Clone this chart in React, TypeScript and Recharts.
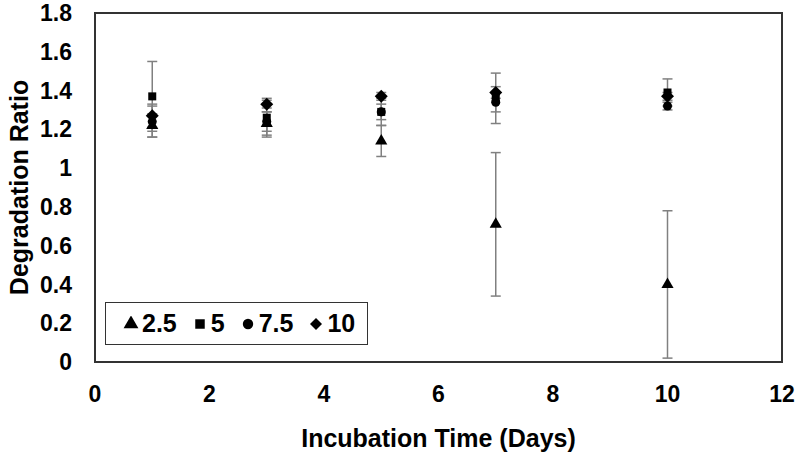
import React from 'react';
import { ScatterChart, Scatter, XAxis, YAxis, ErrorBar, ReferenceArea, Legend, Symbols } from 'recharts';

const days = [1, 3, 5, 7, 10];
const xTicks = [0, 2, 4, 6, 8, 10, 12];
const yTicks = [0, 0.2, 0.4, 0.6, 0.8, 1, 1.2, 1.4, 1.6, 1.8];

const s25 = [1.22, 1.23, 1.14, 0.71, 0.40];
const e25 = [0.06, 0.06, 0.08, 0.37, 0.38];
const s5 = [1.37, 1.26, 1.29, 1.36, 1.39];
const e5 = [0.18, 0.10, 0.07, 0.13, 0.07];
const s75 = [1.24, 1.24, 1.29, 1.34, 1.32];
const e75 = [0.08, 0.05, 0.04, 0.05, 0.02];
const s10 = [1.27, 1.33, 1.37, 1.39, 1.37];
const e10 = [0.06, 0.02, 0.02, 0.03, 0.02];

const build = (vals: number[], errs: number[]) =>
  days.map((d, i) => ({ x: d, y: vals[i], err: errs[i] }));

const DiamondShape = (props: any) => {
  const { cx, cy } = props;
  const r = 6.5;
  return <polygon points={`${cx},${cy - r} ${cx + r},${cy} ${cx},${cy + r} ${cx - r},${cy}`} fill="#000" />;
};

const series = [
  { name: '2.5', shape: 'triangle', data: build(s25, e25) },
  { name: '5', shape: 'square', data: build(s5, e5) },
  { name: '7.5', shape: 'circle', data: build(s75, e75) },
  { name: '10', shape: 'diamond', data: build(s10, e10) },
];

const FONT = '"Liberation Sans", Arial, sans-serif';

const LegendIcon = ({ type }: { type: string }) => (
  <svg width={16} height={16} style={{ marginRight: 3 }}>
    {type === 'diamond' ? (
      <polygon points="8,2 14,8 8,14 2,8" fill="#000" />
    ) : (
      <Symbols cx={8} cy={8} type={type as any} size={type === 'square' ? 90 : type === 'triangle' ? 95 : 85} fill="#000" />
    )}
  </svg>
);

const renderLegend = () => (
  <div
    style={{
      border: '1.5px solid #333',
      background: '#fff',
      height: 43,
      display: 'flex',
      alignItems: 'center',
      padding: '0 12px 0 17px',
      fontFamily: FONT,
      fontWeight: 'bold',
      fontSize: 25,
      color: '#000',
      boxSizing: 'border-box',
    }}
  >
    {series.map((s, i) => (
      <div key={s.name} style={{ display: 'flex', alignItems: 'center', marginRight: i < series.length - 1 ? 15 : 0 }}>
        <LegendIcon type={s.shape} />
        <span>{s.name}</span>
      </div>
    ))}
  </div>
);

export default function App() {
  return (
    <div style={{ position: 'absolute', left: 0, top: 0, background: '#fff' }}>
      <ScatterChart width={800} height={455} margin={{ top: 13, right: 18, bottom: 0, left: 0 }}>
        <XAxis
          type="number"
          dataKey="x"
          domain={[0, 12]}
          ticks={xTicks}
          interval={0}
          axisLine={false}
          tickLine={false}
          tickSize={6}
          tickMargin={18}
          height={93}
          tick={{ fill: '#000', fontSize: 23, fontWeight: 'bold', fontFamily: FONT }}
          label={{ value: 'Incubation Time (Days)', position: 'insideBottom', offset: 8, fill: '#000', fontSize: 25, fontWeight: 'bold', fontFamily: FONT }}
        />
        <YAxis
          type="number"
          dataKey="y"
          domain={[0, 1.8]}
          ticks={yTicks}
          interval={0}
          axisLine={false}
          tickLine={false}
          tickSize={6}
          tickMargin={17}
          width={95}
          tick={{ fill: '#000', fontSize: 23, fontWeight: 'bold', fontFamily: FONT }}
          label={{ value: 'Degradation Ratio', angle: -90, position: 'insideLeft', offset: 19, fill: '#000', fontSize: 25, fontWeight: 'bold', fontFamily: FONT, style: { textAnchor: 'middle' } }}
        />
        <ReferenceArea x1={0} x2={12} y1={0} y2={1.8} fill="none" stroke="#333" strokeWidth={2} ifOverflow="visible" />
        {series.map((s) => (
          <Scatter
            key={s.name}
            name={s.name}
            data={s.data}
            shape={s.shape === 'diamond' ? DiamondShape : (s.shape as any)}
            legendType={s.shape as any}
            fill="#000"
            isAnimationActive={false}
          >
            <ErrorBar dataKey="err" direction="y" width={5} stroke="#808080" strokeWidth={1.5} isAnimationActive={false} />
          </Scatter>
        ))}
        <Legend
          layout="horizontal"
          verticalAlign="middle"
          align="center"
          content={renderLegend}
          wrapperStyle={{ left: 105, top: 302, width: 'auto' }}
        />
      </ScatterChart>
    </div>
  );
}
